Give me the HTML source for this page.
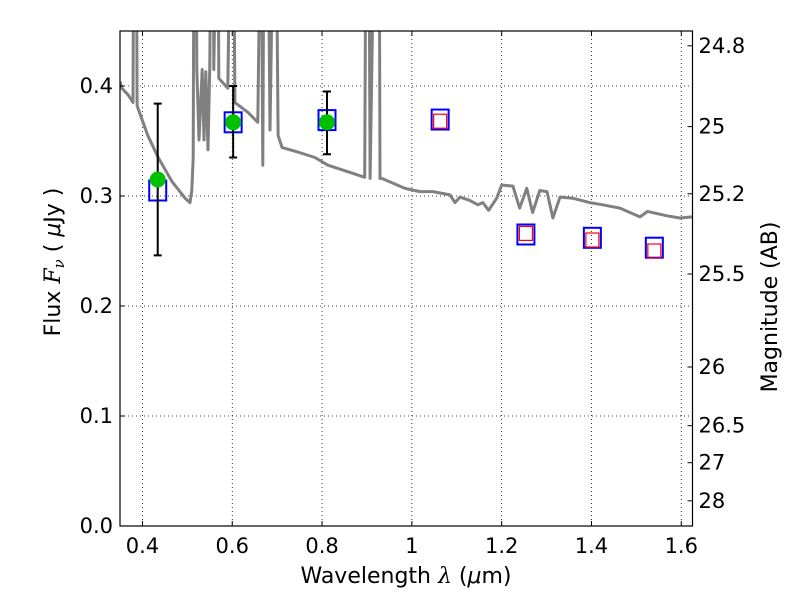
<!DOCTYPE html>
<html><head><meta charset="utf-8"><style>
html,body{margin:0;padding:0;background:#fff;}
svg text{font-family:"DejaVu Sans","Liberation Sans",sans-serif;fill:#000;}
</style></head><body>
<svg id="chart" width="800" height="600" viewBox="0 0 800 600" xmlns="http://www.w3.org/2000/svg">
<rect width="800" height="600" fill="#fff"/>
<defs><clipPath id="pc"><rect x="120" y="31" width="572.5" height="495"/></clipPath></defs>
<g id="grid"></g>
<g id="marks" clip-path="url(#pc)"></g>
<g id="axes"></g>
<text x="406" y="583" font-size="22" text-anchor="middle">Wavelength  <tspan font-family="DejaVu Serif" font-style="italic">λ</tspan> (<tspan font-style="italic">μ</tspan>m)</text>
<text transform="translate(60,262) rotate(-90)" font-size="22" text-anchor="middle">Flux  <tspan font-family="DejaVu Serif" font-style="italic">F<tspan font-size="15" dy="4">ν</tspan></tspan><tspan dy="-4">  ( </tspan><tspan font-style="italic">μ</tspan>Jy )</text>
<text transform="translate(777,307) rotate(-90)" font-size="22" text-anchor="middle">Magnitude (AB)</text>
</svg>
<script>
const xTicks=[0.4,0.6,0.8,1.0,1.2,1.4,1.6];
const xTickLabels=["0.4","0.6","0.8","1","1.2","1.4","1.6"];
const yTicks=[0,0.1,0.2,0.3,0.4];
const yTickLabels=["0.0","0.1","0.2","0.3","0.4"];
const magTicks=[24.8,25,25.2,25.5,26,26.5,27,28];
const magTickLabels=["24.8","25","25.2","25.5","26","26.5","27","28"];
const specWave=[0.350,0.354,0.368,0.379,0.381,0.386,0.388,0.412,0.435,0.466,0.495,0.506,0.510,0.513,0.515,0.519,0.521,0.526,0.533,0.537,0.541,0.546,0.550,0.553,0.557,0.559,0.566,0.568,0.570,0.590,0.597,0.602,0.606,0.635,0.657,0.664,0.668,0.671,0.679,0.684,0.693,0.697,0.702,0.711,0.746,0.784,0.813,0.858,0.895,0.898,0.904,0.907,0.918,0.927,0.929,0.933,0.984,1.018,1.047,1.085,1.096,1.107,1.129,1.147,1.158,1.171,1.189,1.200,1.225,1.240,1.256,1.269,1.285,1.301,1.314,1.330,1.358,1.396,1.425,1.463,1.508,1.525,1.568,1.597,1.624];
const specFlux=[0.404,0.398,0.392,0.385,0.6,0.6,0.382,0.355,0.335,0.313,0.298,0.294,0.305,0.335,0.6,0.6,0.416,0.351,0.415,0.351,0.413,0.342,0.419,0.6,0.6,0.415,0.6,0.6,0.407,0.398,0.6,0.6,0.385,0.376,0.367,0.6,0.328,0.6,0.6,0.36,0.6,0.6,0.355,0.344,0.340,0.335,0.328,0.322,0.317,0.6,0.6,0.316,0.6,0.6,0.316,0.316,0.307,0.304,0.304,0.301,0.294,0.299,0.296,0.292,0.294,0.287,0.298,0.310,0.309,0.289,0.307,0.285,0.305,0.304,0.280,0.299,0.298,0.294,0.292,0.289,0.281,0.286,0.282,0.280,0.281];
const blueWave=[0.434,0.602,0.811,1.063,1.254,1.402,1.540];
const blueFlux=[0.305,0.367,0.369,0.3695,0.265,0.262,0.253];
const redWave=[1.063,1.254,1.402,1.540];
const redFlux=[0.368,0.266,0.260,0.250];
const obsWave=[0.434,0.602,0.811];
const obsFlux=[0.315,0.367,0.367];
const obsHi=[0.384,0.400,0.395];
const obsLo=[0.246,0.335,0.338];

const X0=120,X1=692.5,Y0=526,Y1=31,XMIN=0.35,XMAX=1.625,YMIN=0,YMAX=0.45;
const sx=v=>X0+(v-XMIN)/(XMAX-XMIN)*(X1-X0);
const sy=v=>Y0-(v-YMIN)/(YMAX-YMIN)*(Y0-Y1);
const magToFlux=m=>Math.pow(10,(23.9-m)/2.5);
const NS="http://www.w3.org/2000/svg";
function mk(parent,tag,attrs){const e=document.createElementNS(NS,tag);for(const k in attrs)e.setAttribute(k,attrs[k]);parent.appendChild(e);return e;}
const grid=document.getElementById('grid'),marks=document.getElementById('marks'),axes=document.getElementById('axes');

xTicks.forEach((t,i)=>{
  const x=sx(t);
  const g=mk(grid,'line',{x1:x,x2:x,y1:Y1,y2:Y0,stroke:'#000','stroke-width':0.8,'stroke-dasharray':'1,3'});
  
  
  const a=mk(axes,'line',{x1:x,x2:x,y1:Y0,y2:Y0-5,stroke:'#000','stroke-width':1});
  
  
  const b=mk(axes,'line',{x1:x,x2:x,y1:Y1,y2:Y1+5,stroke:'#000','stroke-width':1});
  
  
  const tx=mk(axes,'text',{x:x,y:Y0+27,'font-size':21,'text-anchor':'middle'});
  tx.textContent=xTickLabels[i];
  
  
});
yTicks.forEach((t,i)=>{
  const y=sy(t);
  if(t>0){const g=mk(grid,'line',{x1:X0,x2:X1,y1:y,y2:y,stroke:'#000','stroke-width':0.8,'stroke-dasharray':'1,3'});
  
  }
  const a=mk(axes,'line',{x1:X0,x2:X0+5,y1:y,y2:y,stroke:'#000','stroke-width':1});
  
  
  const tx=mk(axes,'text',{x:X0-7,y:y+7,'font-size':21,'text-anchor':'end'});
  tx.textContent=yTickLabels[i];
  
  
});
magTicks.forEach((m,i)=>{
  const y=sy(magToFlux(m));
  const a=mk(axes,'line',{x1:X1,x2:X1-5,y1:y,y2:y,stroke:'#000','stroke-width':1});
  
  
  const tx=mk(axes,'text',{x:X1+6,y:y+7,'font-size':21,'text-anchor':'start'});
  tx.textContent=magTickLabels[i];
  
  
});

const pts=specWave.map((w,i)=>sx(w).toFixed(1)+','+sy(specFlux[i]).toFixed(1)).join(' ');
const sp=mk(marks,'polyline',{points:pts,fill:'none',stroke:'#808080','stroke-width':3,'stroke-linejoin':'round'});



blueWave.forEach((w,i)=>{
  const r=mk(marks,'rect',{x:sx(w)-8.5,y:sy(blueFlux[i])-10,width:17,height:20,fill:'none',stroke:'#0000ff','stroke-width':2});
  
  
});
redWave.forEach((w,i)=>{
  const r=mk(marks,'rect',{x:sx(w)-6.5,y:sy(redFlux[i])-7,width:13,height:14,fill:'none',stroke:'#ff0000','stroke-width':1.2});
  
  
});
obsWave.forEach((w,i)=>{
  const x=sx(w);
  const e=mk(marks,'path',{d:`M${x},${sy(obsHi[i])}V${sy(obsLo[i])}M${x-4},${sy(obsHi[i])}H${x+4}M${x-4},${sy(obsLo[i])}H${x+4}`,stroke:'#000','stroke-width':2,fill:'none'});
  
  
  const c=mk(marks,'circle',{cx:x,cy:sy(obsFlux[i]),r:8,fill:'#00c000'});
  
  
});
const fr=mk(axes,'rect',{x:X0,y:Y1,width:X1-X0,height:Y0-Y1,fill:'none',stroke:'#000','stroke-width':1.2});


</script>
</body></html>
